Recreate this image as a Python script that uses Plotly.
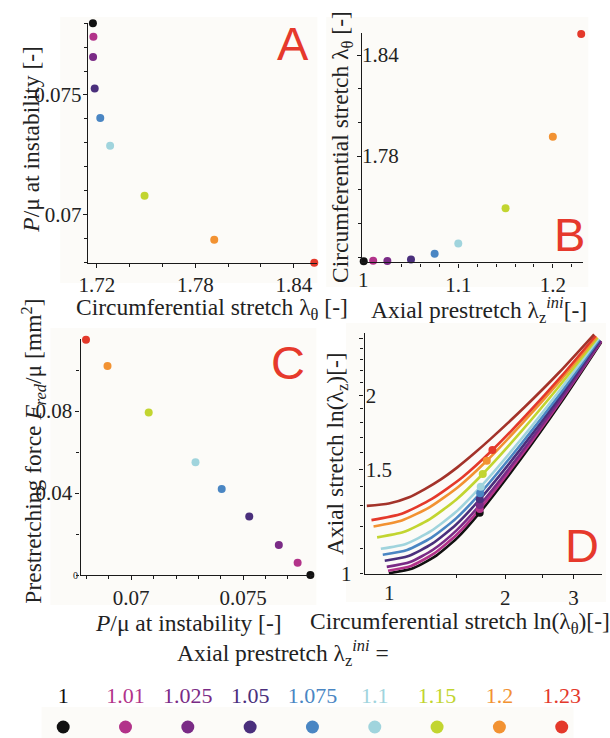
import plotly.graph_objects as go

W, H = 610, 738

# ---------------------------------------------------------------------------
# Data
# ---------------------------------------------------------------------------
prestretch = [1, 1.01, 1.025, 1.05, 1.075, 1.1, 1.15, 1.2, 1.23]
prestretch_labels = ["1", "1.01", "1.025", "1.05", "1.075", "1.1", "1.15", "1.2", "1.23"]
colors = ["#111111", "#b2338a", "#7a2b86", "#4a2f7c", "#4a86c3",
          "#a0d4dd", "#c2d530", "#f29232", "#e4392b"]
color_extra = "#a3332a"   # loading path for lambda_z^ini = 1.3 (no instability marker)

# circumferential stretch at instability
lam_theta_inst = [1.7175, 1.7178, 1.7176, 1.7186, 1.722, 1.728, 1.749, 1.7915, 1.8525]
# pressure at instability P/mu
p_inst = [0.0780, 0.07743, 0.07659, 0.07527, 0.07404, 0.07287, 0.07078, 0.06894, 0.06798]
# reduced prestretching force F_red/mu
f_red = [0.0, 0.0060, 0.0146, 0.0286, 0.0420, 0.0550, 0.0793, 0.1020, 0.1148]
# axial stretch at instability
lam_z_inst = [1.266, 1.284, 1.304, 1.334, 1.365, 1.401, 1.472, 1.550, 1.616]

# loading paths (lambda_theta, lambda_z) for each prestretch
theta_100 = [1.0, 1.145, 1.311, 1.501, 1.7175, 2.189, 2.787, 3.551]
z_100 = [1.0, 1.0173, 1.0655, 1.1464, 1.266, 1.557, 1.944, 2.466]
theta_101 = [0.995, 1.141, 1.307, 1.499, 1.7178, 2.187, 2.784, 3.543]
z_101 = [1.01, 1.0288, 1.0795, 1.163, 1.284, 1.574, 1.959, 2.469]
theta_1025 = [0.9877, 1.135, 1.303, 1.496, 1.7176, 2.186, 2.778, 3.533]
z_1025 = [1.025, 1.0445, 1.097, 1.182, 1.304, 1.591, 1.967, 2.472]
theta_105 = [0.9759, 1.124, 1.295, 1.493, 1.7186, 2.183, 2.770, 3.516]
z_105 = [1.05, 1.0696, 1.122, 1.209, 1.334, 1.617, 1.987, 2.479]
theta_1075 = [0.9645, 1.115, 1.289, 1.490, 1.722, 2.182, 2.765, 3.501]
z_1075 = [1.075, 1.095, 1.149, 1.237, 1.365, 1.645, 2.009, 2.487]
theta_110 = [0.9535, 1.106, 1.284, 1.490, 1.728, 2.184, 2.758, 3.485]
z_110 = [1.1, 1.121, 1.178, 1.269, 1.401, 1.677, 2.034, 2.493]
theta_115 = [0.9325, 1.091, 1.277, 1.495, 1.749, 2.197, 2.760, 3.465]
z_115 = [1.15, 1.174, 1.235, 1.333, 1.472, 1.736, 2.074, 2.503]
theta_120 = [0.9129, 1.080, 1.279, 1.514, 1.7915, 2.228, 2.770, 3.445]
z_120 = [1.2, 1.228, 1.295, 1.401, 1.550, 1.802, 2.116, 2.513]
theta_123 = [0.9017, 1.080, 1.292, 1.547, 1.8525, 2.273, 2.791, 3.425]
z_123 = [1.23, 1.261, 1.336, 1.452, 1.616, 1.856, 2.153, 2.523]
theta_130 = [0.877, 1.0, 1.124, 1.239, 1.366, 1.506, 1.660, 1.830, 2.245, 2.755, 3.395]
z_130 = [1.3, 1.312, 1.343, 1.388, 1.443, 1.512, 1.594, 1.686, 1.911, 2.186, 2.537]

paths = [(theta_100, z_100), (theta_101, z_101), (theta_1025, z_1025),
         (theta_105, z_105), (theta_1075, z_1075), (theta_110, z_110),
         (theta_115, z_115), (theta_120, z_120), (theta_123, z_123)]

# ---------------------------------------------------------------------------
# Helpers: page pixels -> paper fractions
# ---------------------------------------------------------------------------
def fx(p):
    return p / W


def fy(p):
    return 1 - p / H


SERIF = "Liberation Serif, Times New Roman, Times, serif"
SANS = "Liberation Sans, Arial, sans-serif"
TEXT = "#222222"
TICK_FONT = dict(family=SERIF, size=21, color=TEXT)
INK = "#1a1a1a"


def axis(px0, px1, rng, vertical=False, **kw):
    dom = [fy(px1), fy(px0)] if vertical else [fx(px0), fx(px1)]
    d = dict(domain=dom, range=rng, showline=True, linecolor=INK, linewidth=1.4,
             ticks="outside", ticklen=4, tickwidth=1, tickcolor=INK,
             showgrid=False, zeroline=False, tickfont=TICK_FONT, fixedrange=True)
    d.update(kw)
    return d


def minor(vals, length=3):
    return dict(tickmode="array", tickvals=vals, ticks="outside", ticklen=length,
                tickwidth=1, tickcolor=INK, showgrid=False)


fig = go.Figure()

# ---------------------------------------------------------------------------
# Panel A: P/mu at instability vs circumferential stretch
# ---------------------------------------------------------------------------
fig.add_trace(go.Scatter(x=lam_theta_inst, y=p_inst, mode="markers",
                         marker=dict(color=colors, size=8), xaxis="x", yaxis="y",
                         showlegend=False, cliponaxis=False))

# Panel B: circumferential stretch vs axial prestretch
fig.add_trace(go.Scatter(x=prestretch, y=lam_theta_inst, mode="markers",
                         marker=dict(color=colors, size=8), xaxis="x2", yaxis="y2",
                         showlegend=False, cliponaxis=False))

# Panel C: prestretching force vs pressure at instability
fig.add_trace(go.Scatter(x=p_inst, y=f_red, mode="markers",
                         marker=dict(color=colors, size=8), xaxis="x3", yaxis="y3",
                         showlegend=False, cliponaxis=False))

# Panel D: loading paths, then instability points on top
LINE_W = 2.6
for (th, zz), col in zip(paths, colors):
    fig.add_trace(go.Scatter(x=th, y=zz, mode="lines",
                             line=dict(color=col, width=LINE_W, shape="spline", smoothing=0.6),
                             xaxis="x4", yaxis="y4", showlegend=False, hoverinfo="skip"))
fig.add_trace(go.Scatter(x=theta_130, y=z_130, mode="lines",
                         line=dict(color=color_extra, width=LINE_W, shape="spline", smoothing=0.6),
                         xaxis="x4", yaxis="y4", showlegend=False, hoverinfo="skip"))
fig.add_trace(go.Scatter(x=lam_theta_inst, y=lam_z_inst, mode="markers",
                         marker=dict(color=colors, size=8), xaxis="x4", yaxis="y4",
                         showlegend=False))

# Colour key along the bottom
idx = list(range(len(prestretch)))
fig.add_trace(go.Scatter(x=idx, y=[1] * len(idx), mode="text", text=prestretch_labels,
                         textfont=dict(family=SERIF, size=22, color=colors),
                         xaxis="x5", yaxis="y5", showlegend=False, hoverinfo="skip"))
fig.add_trace(go.Scatter(x=idx, y=[0] * len(idx), mode="markers",
                         marker=dict(color=colors, size=13),
                         xaxis="x5", yaxis="y5", showlegend=False, hoverinfo="skip"))

# ---------------------------------------------------------------------------
# Axes
# ---------------------------------------------------------------------------
layout = dict(
    width=W, height=H, margin=dict(l=0, r=0, t=0, b=0),
    paper_bgcolor="white", plot_bgcolor="rgba(0,0,0,0)",
    font=dict(family=SERIF, color=TEXT),
    # A
    xaxis=axis(80, 313, [1.7144, 1.8544], anchor="y",
               tickvals=[1.72, 1.78, 1.84], ticktext=["1.72", "1.78", "1.84"],
               ticklabelstandoff=-1, minor=minor([1.74, 1.76, 1.80, 1.82])),
    yaxis=axis(23, 263, [0.06797, 0.07801], vertical=True, anchor="x",
               tickvals=[0.07, 0.075], ticktext=["0.07", "0.075"],
               ticklabelstandoff=-3,
               minor=minor([0.068, 0.069, 0.071, 0.072, 0.073, 0.074,
                            0.076, 0.077, 0.078])),
    # B
    xaxis2=axis(358.3, 582.7, [0.9982, 1.232], anchor="y2",
                tickvals=[1.1, 1.2], ticktext=["1.1", "1.2"],
                ticklabelstandoff=-1,
                minor=minor([1.0, 1.02, 1.04, 1.06, 1.08, 1.12, 1.14, 1.16, 1.18, 1.22])),
    yaxis2=axis(33, 262.3, [1.7169, 1.8531], vertical=True, anchor="x2",
                tickvals=[1.78, 1.84], ticktext=["1.78", "1.84"],
                ticklabelposition="inside", ticklabelstandoff=1,
                minor=minor([1.72, 1.74, 1.76, 1.80, 1.82])),
    # C
    xaxis3=axis(72.7, 310, [0.06774, 0.07818], anchor="y3",
                tickvals=[0.07, 0.075], ticktext=["0.07", "0.075"],
                ticklabelstandoff=0,
                minor=minor([0.068, 0.069, 0.071, 0.072, 0.073, 0.074,
                             0.076, 0.077, 0.078])),
    yaxis3=axis(339.3, 575, [0, 0.115], vertical=True, anchor="x3",
                tickvals=[0.04, 0.08], ticktext=["0.04", "0.08"],
                ticklabelstandoff=-1, minor=minor([0.0, 0.02, 0.06, 0.10])),
    # D (logarithmic)
    xaxis4=axis(361, 602, [-0.0625, 0.5514], anchor="y4", type="log",
                tickvals=[2, 3], ticktext=["2", "3"], ticklabelstandoff=1,
                minor=minor([0.9, 0.95, 1.0, 1.5, 2.5])),
    yaxis4=axis(333, 574, [-0.0013, 0.4065], vertical=True, anchor="x4", type="log",
                tickvals=[1.5, 2, 2.5], ticktext=["1.5", "2", "2.5"],
                ticklabelposition="inside", ticklabelstandoff=2,
                minor=minor([1.0, 1.1, 1.2, 1.3, 1.4, 1.6, 1.7, 1.8, 1.9,
                             2.1, 2.2, 2.3, 2.4])),
    # colour key
    xaxis5=dict(domain=[0, 1], range=[-55 / 63.25, (W - 55) / 63.25], visible=False,
                anchor="y5", fixedrange=True),
    yaxis5=dict(domain=[0, fy(680)], range=[-(H - 727) / 30, (727 - 680) / 30],
                visible=False, anchor="x5", fixedrange=True),
)

# soft panel backgrounds
panel_boxes = [(52, 17, 313, 283), (322, 17, 588, 287), (42, 328, 312, 605),
               (342, 323, 606, 602), (33, 707, 573, 738)]
shapes = []
for x0, y0, x1, y1 in panel_boxes:
    shapes.append(dict(type="rect", xref="paper", yref="paper", layer="below",
                       x0=fx(x0), x1=fx(x1), y0=fy(y1), y1=fy(y0),
                       fillcolor="#fcfbf8", line=dict(width=0)))
layout["shapes"] = shapes


def note(text, x, y, size=23.5, angle=0, xanchor="center", color=TEXT, family=SERIF):
    return dict(text=text, x=fx(x), y=fy(y), xref="paper", yref="paper",
                showarrow=False, textangle=angle, xanchor=xanchor, yanchor="middle",
                font=dict(family=family, size=size, color=color))


RED = "#e6392c"
annotations = [
    # axis titles
    note("<i>P</i>/μ at instability [-]", 22, 139, angle=-90),
    note("Circumferential stretch λ<sub>θ</sub> [-]", 206, 309),
    note("Circumferential stretch λ<sub>θ</sub> [-]", 338, 147, angle=-90),
    note("Axial prestretch λ<sub>z</sub><sup><i>ini</i></sup>[-]", 477, 310),
    note("Prestretching force <i>F<sub>red</sub></i>/μ [mm<sup>2</sup>]", 25, 451, angle=-90),
    note("<i>P</i>/μ at instability [-]", 182, 623),
    note("Axial stretch ln(λ<sub>z</sub>)[-]", 333, 454, angle=-90),
    note("Circumferential stretch ln(λ<sub>θ</sub>)[-]", 303, 623, xanchor="left"),
    # tick labels placed by hand next to the axis corners
    note("0", 67, 575, size=10),
    note("1", 343, 574, size=21),
    note("1", 360, 280, size=21),
    note("1", 386, 593, size=21),
    # key title
    note("Axial prestretch λ<sub>z</sub><sup><i>ini</i></sup> =", 278, 653),
    # panel letters
    note("A", 288, 44, size=47, color=RED, family=SANS),
    note("B", 569, 234, size=47, color=RED, family=SANS),
    note("C", 283, 362, size=47, color=RED, family=SANS),
    note("D", 582, 545, size=47, color=RED, family=SANS),
]
layout["annotations"] = annotations

fig.update_layout(**layout)
fig.write_html("out.html")
